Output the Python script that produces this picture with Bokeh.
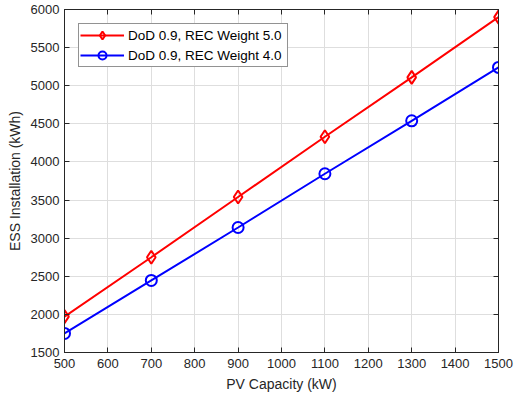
from bokeh.plotting import figure
from bokeh.models import LinearAxis, Range1d, FixedTicker, Legend, LegendItem, CustomJSTickFormatter
from bokeh.embed import file_html
from bokeh.resources import INLINE

pv_capacity = [500, 700, 900, 1100, 1300, 1500]
ess_rec5 = [1970, 2750, 3540, 4330, 5110, 5900]
ess_rec4 = [1750, 2445, 3140, 3845, 4540, 5240]
x_ticks = [500, 600, 700, 800, 900, 1000, 1100, 1200, 1300, 1400, 1500]
y_ticks = [1500, 2000, 2500, 3000, 3500, 4000, 4500, 5000, 5500, 6000]

FONT = "Liberation Sans"
AX = "#262626"

p = figure(width=514, height=399, output_backend="svg", toolbar_location=None,
           x_range=Range1d(500, 1500), y_range=Range1d(1500, 6000),
           min_border_left=64, min_border_right=16, min_border_top=9, min_border_bottom=47)
p.outline_line_color = AX
p.background_fill_color = "white"
p.border_fill_color = "white"

for ax, ticks in ((p.xaxis[0], x_ticks), (p.yaxis[0], y_ticks)):
    ax.ticker = FixedTicker(ticks=ticks)
    ax.major_tick_in = 5
    ax.major_tick_out = 0
    ax.minor_tick_line_color = None
    ax.axis_line_color = AX
    ax.major_tick_line_color = AX
    ax.major_label_text_font = FONT
    ax.major_label_text_font_size = "13px"
    ax.major_label_text_color = AX
    ax.axis_label_text_font = FONT
    ax.axis_label_text_font_size = "14px"
    ax.axis_label_text_font_style = "normal"
    ax.axis_label_text_color = AX
p.xaxis[0].axis_label = "PV Capacity (kW)"
p.yaxis[0].axis_label = "ESS Installation (kWh)"
p.xaxis[0].major_label_standoff = 6
p.xaxis[0].axis_label_standoff = 5
p.yaxis[0].major_label_standoff = 5
p.yaxis[0].axis_label_standoff = 5

blank = CustomJSTickFormatter(code="return ''")
top = LinearAxis(ticker=FixedTicker(ticks=x_ticks), formatter=blank,
                 major_tick_in=5, major_tick_out=0, minor_tick_line_color=None,
                 axis_line_color=AX, major_tick_line_color=AX, major_label_standoff=0)
right = LinearAxis(ticker=FixedTicker(ticks=y_ticks), formatter=blank,
                   major_tick_in=5, major_tick_out=0, minor_tick_line_color=None,
                   axis_line_color=AX, major_tick_line_color=AX, major_label_standoff=0)
p.add_layout(top, "above")
p.add_layout(right, "right")

p.xgrid.ticker = FixedTicker(ticks=x_ticks)
p.ygrid.ticker = FixedTicker(ticks=y_ticks)
for g in (p.xgrid[0], p.ygrid[0]):
    g.grid_line_color = "#dedede"
    g.grid_line_width = 1

l1 = p.line(pv_capacity, ess_rec5, line_color="#ff0000", line_width=2)
m1 = p.scatter(pv_capacity, ess_rec5, marker="diamond", size=13, fill_color=None,
               line_color="#ff0000", line_width=2)
l2 = p.line(pv_capacity, ess_rec4, line_color="#0000ff", line_width=2)
m2 = p.scatter(pv_capacity, ess_rec4, marker="circle", size=11, fill_color=None,
               line_color="#0000ff", line_width=2)

legend = Legend(items=[LegendItem(label="DoD 0.9, REC Weight 5.0", renderers=[l1, m1]),
                       LegendItem(label="DoD 0.9, REC Weight 4.0", renderers=[l2, m2])],
                location="top_left")
legend.label_text_font = FONT
legend.label_text_font_size = "13.5px"
legend.label_text_color = "#000000"
legend.border_line_color = AX
legend.border_line_width = 1
legend.margin = 14
legend.padding = 1
legend.spacing = 0
legend.glyph_width = 44
legend.glyph_height = 20
legend.label_standoff = 4
legend.label_height = 20
legend.label_width = 158
legend.background_fill_alpha = 1
p.add_layout(legend, "center")

open("out.html", "w").write(file_html(p, INLINE))
